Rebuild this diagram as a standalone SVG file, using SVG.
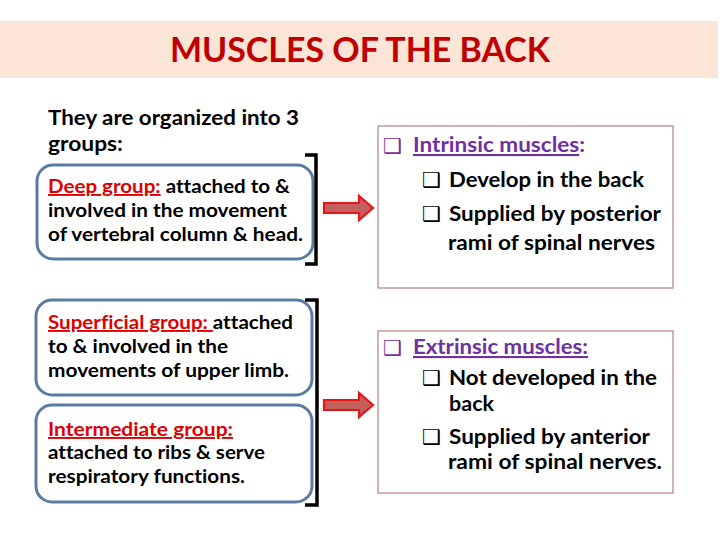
<svg xmlns="http://www.w3.org/2000/svg" width="720" height="540" viewBox="0 0 720 540">
<style>
.t{font-family:Lato,"Open Sans","Liberation Sans",sans-serif;font-weight:bold;fill:#000;font-variant-ligatures:none}
.lb{font-size:19px}
.rb{font-size:21px}
.red{fill:#e00000;text-decoration:underline}
.pur{fill:#7030a0}
.ul{text-decoration:underline}
.bul{font-family:"DejaVu Sans",sans-serif;font-size:21px;font-weight:bold}
.grp{fill:#fff;stroke:#5b7ba3;stroke-width:3}
.info{fill:#fff;stroke:#b98a8a;stroke-width:1.3}
.brk{fill:none;stroke:#000;stroke-width:3.5}
.arr{fill:#c4605c;stroke:#e8141a;stroke-width:2.2;stroke-linejoin:miter}
</style>
<rect width="720" height="540" fill="#fff"/>
<g id="title">
<rect x="0" y="21" width="718" height="57" fill="#fbe5d6"/>
<text x="170" y="62" textLength="380" lengthAdjust="spacingAndGlyphs" style="font-family:Lato,'Open Sans',sans-serif;font-weight:bold;font-size:34px;fill:#c00000">MUSCLES OF THE BACK</text>
</g>
<g id="intro">
<text class="t" x="48" y="125" textLength="251" lengthAdjust="spacingAndGlyphs" style="font-size:20px">They are organized into 3</text>
<text class="t" x="48" y="151" textLength="75" lengthAdjust="spacingAndGlyphs" style="font-size:20px">groups:</text>
</g>
<g id="deep">
<rect class="grp" x="37" y="165" width="276" height="94" rx="16"/>
<text class="t lb" x="48" y="193" textLength="242" lengthAdjust="spacingAndGlyphs"><tspan class="red">Deep group:</tspan> attached to &amp;</text>
<text class="t lb" x="48" y="217" textLength="239" lengthAdjust="spacingAndGlyphs">involved in the movement</text>
<text class="t lb" x="48" y="241" textLength="255" lengthAdjust="spacingAndGlyphs">of vertebral column &amp; head.</text>
</g>
<g id="superficial">
<rect class="grp" x="36" y="300" width="276" height="95" rx="16"/>
<text class="t lb" x="48" y="329" textLength="245" lengthAdjust="spacingAndGlyphs"><tspan class="red">Superficial group: </tspan>attached</text>
<text class="t lb" x="48" y="353" textLength="180" lengthAdjust="spacingAndGlyphs">to &amp; involved in the</text>
<text class="t lb" x="48" y="377" textLength="241" lengthAdjust="spacingAndGlyphs">movements of upper limb.</text>
</g>
<g id="intermediate">
<rect class="grp" x="36" y="405" width="276" height="97" rx="16"/>
<text class="t lb" x="48" y="436" textLength="185" lengthAdjust="spacingAndGlyphs"><tspan class="red">Intermediate group:</tspan></text>
<text class="t lb" x="48" y="459" textLength="217" lengthAdjust="spacingAndGlyphs">attached to ribs &amp; serve</text>
<text class="t lb" x="48" y="483" textLength="197" lengthAdjust="spacingAndGlyphs">respiratory functions.</text>
</g>
<g id="intrinsic">
<rect class="info" x="378" y="126" width="295" height="162"/>
<text class="bul pur" x="383" y="153">❑</text>
<text class="t rb" x="413" y="152" textLength="172" lengthAdjust="spacingAndGlyphs"><tspan class="pur ul">Intrinsic muscles</tspan><tspan class="pur">:</tspan></text>
<text class="bul" x="422" y="187">❑</text>
<text class="t rb" x="449" y="187" textLength="195" lengthAdjust="spacingAndGlyphs">Develop in the back</text>
<text class="bul" x="422" y="221">❑</text>
<text class="t rb" x="449" y="221" textLength="212" lengthAdjust="spacingAndGlyphs">Supplied by posterior</text>
<text class="t rb" x="448" y="250" textLength="207" lengthAdjust="spacingAndGlyphs">rami of spinal nerves</text>
</g>
<g id="extrinsic">
<rect class="info" x="378" y="331" width="295" height="162"/>
<text class="bul pur" x="383" y="355">❑</text>
<text class="t rb" x="413" y="354" textLength="175" lengthAdjust="spacingAndGlyphs"><tspan class="pur ul">Extrinsic muscles:</tspan></text>
<text class="bul" x="422" y="385">❑</text>
<text class="t rb" x="449" y="385" textLength="208" lengthAdjust="spacingAndGlyphs">Not developed in the</text>
<text class="t rb" x="449" y="411" textLength="45" lengthAdjust="spacingAndGlyphs">back</text>
<text class="bul" x="422" y="444">❑</text>
<text class="t rb" x="449" y="444" textLength="201" lengthAdjust="spacingAndGlyphs">Supplied by anterior</text>
<text class="t rb" x="448" y="469" textLength="214" lengthAdjust="spacingAndGlyphs">rami of spinal nerves.</text>
</g>
<g id="connectors">
<path class="brk" d="M305,155 H316 V264 H305"/>
<path class="brk" d="M305,300 H317 V505 H305"/>
<polygon class="arr" points="324,203 359,203 359,196 373,208 359,220 359,213 324,213"/>
<polygon class="arr" points="324,400 359,400 359,393 373,405 359,417 359,410 324,410"/>
</g>
</svg>
